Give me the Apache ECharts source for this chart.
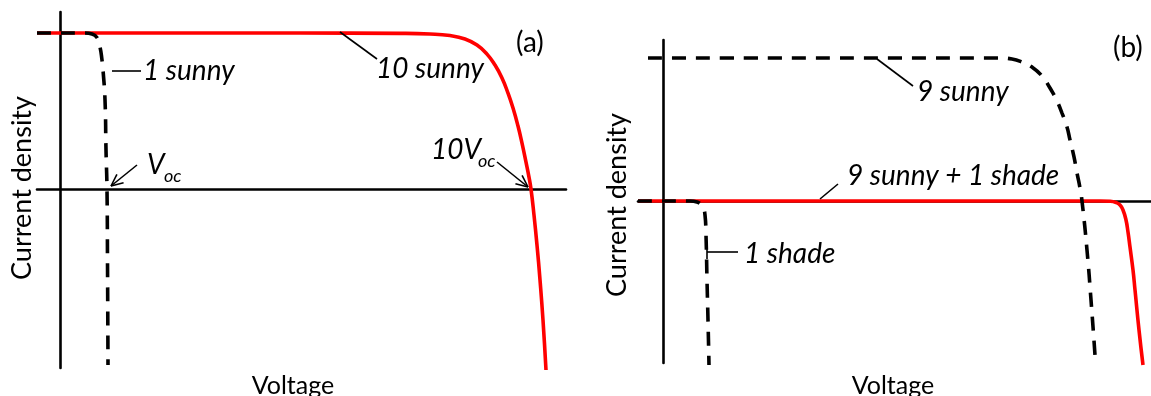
<!DOCTYPE html>
<html>
<head>
<meta charset="utf-8">
<script src="https://cdn.jsdelivr.net/npm/echarts@6/dist/echarts.min.js"></script>
<style>
html,body{margin:0;padding:0;background:#fff;}
#main{width:1151px;height:396px;}
</style>
</head>
<body>
<div id="main"></div>
<script>
// Panel (a): normalised voltage (x) vs current density (y)
var a10Sunny = [[-1,1],[10.435,1],[14.783,0.998],[16.087,0.994],[16.957,0.984],[17.609,0.962],[18.130,0.923],[18.565,0.865],[18.913,0.795],[19.217,0.712],[19.478,0.615],[19.696,0.519],[19.913,0.404],[20.087,0.295],[20.261,0.173],[20.391,0.077],[20.478,0],[20.609,-0.167],[20.739,-0.359],[20.870,-0.583],[21.0,-0.840],[21.130,-1.160]];
var a1Sunny = [[-1,1],[1.087,1],[1.391,0.994],[1.609,0.971],[1.739,0.910],[1.826,0.827],[1.870,0.763],[1.957,0.571],[2.0,0.25],[2.043,0],[2.065,-0.455],[2.087,-1.128]];
// Panel (b)
var b9Sunny = [[-0.6,1],[13.48,1],[13.96,0.993],[14.36,0.972],[14.76,0.937],[15.16,0.874],[15.48,0.790],[15.76,0.699],[15.96,0.615],[16.16,0.517],[16.28,0.427],[16.44,0.308],[16.56,0.196],[16.68,0.091],[16.76,0],[16.96,-0.343],[17.12,-0.692],[17.28,-1.077]];
var b9Sunny1Shade = [[-1,0],[17.48,0],[17.88,-0.002],[18.12,-0.0105],[18.28,-0.028],[18.40,-0.063],[18.52,-0.133],[18.60,-0.217],[18.68,-0.322],[18.80,-0.483],[18.88,-0.622],[19.04,-0.902],[19.20,-1.147]];
var b1Shade = [[-1,0],[1.08,0],[1.36,-0.007],[1.56,-0.035],[1.68,-0.098],[1.72,-0.238],[1.76,-0.552],[1.80,-0.832],[1.84,-1.147]];

var panelLabels = ['(a)','(b)'];
var xAxisName = 'Voltage';
var yAxisName = 'Current density';

var FONT = 'Lato';
var FS = 28;

var chart = echarts.init(document.getElementById('main'), null, {renderer:'canvas'});

function axisX(gi, min, max){
  return {type:'value', gridIndex:gi, min:min, max:max,
    axisLine:{show:true, onZero:true, lineStyle:{color:'#000', width:2.6}},
    axisTick:{show:false}, axisLabel:{show:false}, splitLine:{show:false}};
}
function axisY(gi, min, max){
  return {type:'value', gridIndex:gi, min:min, max:max,
    axisLine:{show:true, onZero:true, lineStyle:{color:'#000', width:2.6}},
    axisTick:{show:false}, axisLabel:{show:false}, splitLine:{show:false}};
}
function redLine(gi, data){
  return {type:'line', xAxisIndex:gi, yAxisIndex:gi, data:data, smooth:0.5, symbol:'none', clip:false, z:3,
    lineStyle:{color:'#ff0000', width:3.6}};
}
function dashLine(gi, data){
  return {type:'line', xAxisIndex:gi, yAxisIndex:gi, data:data, smooth:0.5, symbol:'none', clip:false, z:4,
    lineStyle:{color:'#000', width:3.6, type:[14,10], cap:'butt'}};
}

var g = [];
function txt(x, y, s, opt){
  opt = opt || {};
  g.push({type:'text', x:x, y:y, rotation:opt.rot||0, z:10, style:{text:s, fill:'#000',
    fontFamily:FONT, fontSize:opt.fs||FS, fontStyle:opt.italic===false?'normal':'italic',
    align:opt.align||'left', verticalAlign:'middle'}});
}
function ln(x1,y1,x2,y2,w){
  g.push({type:'line', z:10, shape:{x1:x1,y1:y1,x2:x2,y2:y2}, style:{stroke:'#000', lineWidth:w||1.6}});
}
function arrow(x1,y1,x2,y2){
  ln(x1,y1,x2,y2);
  var ang = Math.atan2(y2-y1, x2-x1), L = 13, sp = 0.42;
  ln(x2,y2, x2 - L*Math.cos(ang-sp), y2 - L*Math.sin(ang-sp));
  ln(x2,y2, x2 - L*Math.cos(ang+sp), y2 - L*Math.sin(ang+sp));
}

// panel (a) annotations
txt(516, 43, panelLabels[0], {italic:false});
ln(340,32,377,59); txt(376, 69, '10 sunny');
ln(112,71,141,71); txt(143, 71, '1 sunny');
arrow(137,165,111,186); txt(147, 165, 'V'); txt(164, 176, 'oc', {fs:18});
arrow(497,162,528,187); txt(431, 150, '10V'); txt(478, 161, 'oc', {fs:18});
txt(22, 188, yAxisName, {italic:false, rot:Math.PI/2, align:'center', fs:27});
txt(293, 386, xAxisName, {italic:false, align:'center', fs:25});

// panel (b) annotations
txt(1113, 48, panelLabels[1], {italic:false});
ln(877,59,913,86); txt(917, 92, '9 sunny');
ln(820,199,838,184); txt(847, 176, '9 sunny + 1 shade');
ln(707,252,738,252); ln(707,245,707,259); txt(744, 254, '1 shade');
txt(617, 205, yAxisName, {italic:false, rot:Math.PI/2, align:'center', fs:27});
txt(893, 386, xAxisName, {italic:false, align:'center', fs:25});

var option = {
  backgroundColor:'#fff',
  animation:false,
  grid:[
    {left:37, top:12, width:529, height:356},
    {left:638, top:40, width:513, height:323}
  ],
  xAxis:[axisX(0,-1,22), axisX(1,-1,19.52)],
  yAxis:[axisY(0,-1.147,1.135), axisY(1,-1.133,1.126)],
  series:[
    redLine(0, a10Sunny),
    dashLine(0, a1Sunny),
    redLine(1, b9Sunny1Shade),
    dashLine(1, b9Sunny),
    dashLine(1, b1Shade)
  ],
  graphic:g
};
chart.setOption(option);
</script>
</body>
</html>
